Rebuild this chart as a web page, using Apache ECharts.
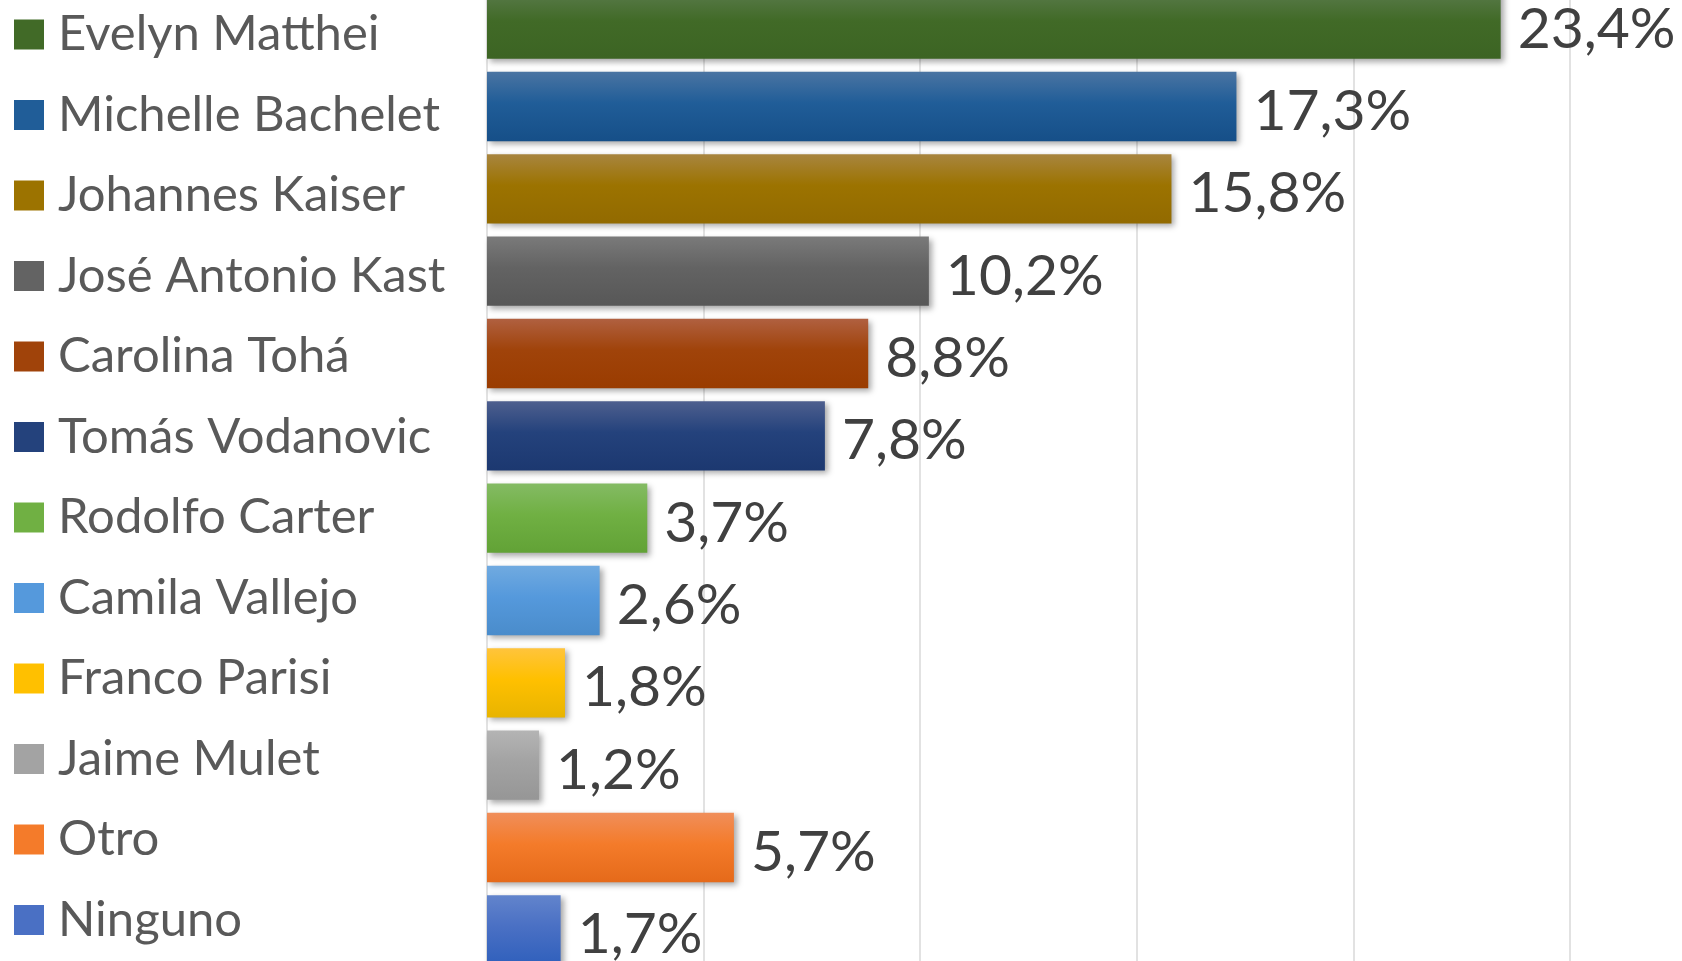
<!DOCTYPE html>
<html>
<head>
<meta charset="utf-8">
<script src="https://cdn.jsdelivr.net/npm/echarts@6/dist/echarts.min.js"></script>
<style>
html,body{margin:0;padding:0;background:#fff;}
#chart{width:1682px;height:961px;}
</style>
</head>
<body>
<div id="chart"></div>
<script>
// Data
const categories = ["Evelyn Matthei","Michelle Bachelet","Johannes Kaiser","José Antonio Kast","Carolina Tohá","Tomás Vodanovic","Rodolfo Carter","Camila Vallejo","Franco Parisi","Jaime Mulet","Otro","Ninguno"];
const values = [23.4,17.3,15.8,10.2,8.8,7.8,3.7,2.6,1.8,1.2,5.7,1.7];

// Styles (top, middle, bottom of the gradient)
const palette = [
  ["#5a7b4c","#416a27","#3c6423"],
  ["#4a74a2","#205d98","#164f88"],
  ["#a8853f","#9c7300","#926a00"],
  ["#7a7a7a","#636363","#575757"],
  ["#b06040","#a0430a","#9a3c00"],
  ["#4e5f8e","#24427c","#1c3870"],
  ["#84bb64","#70b043","#62a236"],
  ["#70aae0","#5599dc","#4a8ccb"],
  ["#ffc43c","#ffc000","#e8b400"],
  ["#b4b4b4","#a3a3a3","#969696"],
  ["#f08e5a","#f47b2a","#e56a1a"],
  ["#6284cc","#4a70c4","#3060bc"]
];

const FONT = "Lato";
const rich = { t: { fontSize: 49, color: "#595959", fontFamily: FONT, padding: [0,0,0,14] } };
palette.forEach((p, i) => {
  rich["s" + i] = { width: 30, height: 30, backgroundColor: p[1] };
});

const chart = echarts.init(document.getElementById("chart"));
chart.setOption({
  animation: false,
  backgroundColor: "#ffffff",
  grid: [
    { left: 487, right: 112, top: -17, height: 988, containLabel: false, outerBoundsMode: "none" },
    { left: 487, width: 10, top: -5.75, height: 966, containLabel: false, outerBoundsMode: "none" }
  ],
  xAxis: [{
    type: "value", min: 0, max: 25, interval: 5,
    axisLabel: { show: false }, axisLine: { show: false }, axisTick: { show: false },
    splitLine: { show: true, lineStyle: { color: "#d9d9d9", width: 1.5 } }
  }, {
    gridIndex: 1, type: "value", show: false
  }],
  yAxis: [{
    type: "category", inverse: true, data: categories,
    axisLine: { show: false }, axisTick: { show: false }, axisLabel: { show: false }
  }, {
    gridIndex: 1, type: "category", inverse: true, data: categories,
    axisLine: { show: false }, axisTick: { show: false }, splitLine: { show: false },
    axisLabel: {
      align: "left", margin: 473,
      formatter: (v, i) => "{s" + i + "|}{t|" + v + "}",
      rich: rich
    }
  }],
  series: [{
    type: "bar",
    barCategoryGap: "15.8%",
    data: values.map((v, i) => ({
      value: v,
      itemStyle: {
        color: new echarts.graphic.LinearGradient(0, 0, 0, 1, [
          { offset: 0, color: palette[i][0] },
          { offset: 0.45, color: palette[i][1] },
          { offset: 1, color: palette[i][2] }
        ])
      }
    })),
    itemStyle: { shadowBlur: 6, shadowOffsetX: 3, shadowOffsetY: 3, shadowColor: "rgba(0,0,0,0.35)" },
    label: {
      show: true, position: "right", distance: 17, offset: [0, 5],
      fontSize: 57, color: "#404040", fontFamily: FONT,
      formatter: p => p.value.toFixed(1).replace(".", ",") + "%"
    }
  }]
});
</script>
</body>
</html>
